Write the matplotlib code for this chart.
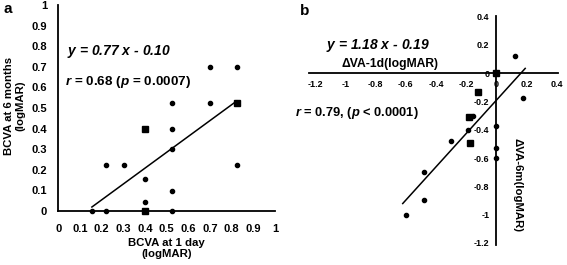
import matplotlib
matplotlib.use("Agg")
import matplotlib.pyplot as plt
import numpy as np

plt.rcParams['font.family'] = ['Liberation Sans', 'DejaVu Sans']
plt.rcParams['mathtext.fontset'] = 'custom'
plt.rcParams['mathtext.it'] = 'Liberation Sans:italic:bold'
plt.rcParams['mathtext.rm'] = 'Liberation Sans:bold'

# Panel a data
a_circ_x = [0.155, 0.222, 0.222, 0.301, 0.398, 0.398, 0.523, 0.523, 0.523, 0.523, 0.523, 0.699, 0.699, 0.824, 0.824]
a_circ_y = [0.0, 0.0, 0.222, 0.222, 0.155, 0.046, 0.0, 0.097, 0.301, 0.398, 0.523, 0.523, 0.699, 0.699, 0.222]
a_sq_x = [0.398, 0.398, 0.824]
a_sq_y = [0.0, 0.398, 0.523]
a_fit = (0.77, -0.10)
a_fit_range = [0.155, 0.824]
a_ticks = [0, 0.1, 0.2, 0.3, 0.4, 0.5, 0.6, 0.7, 0.8, 0.9, 1]
a_ticklabels = ['0', '0.1', '0.2', '0.3', '0.4', '0.5', '0.6', '0.7', '0.8', '0.9', '1']

# Panel b data
b_circ_x = [0.125, 0.176, 0.0, 0.0, 0.0, -0.155, -0.19, -0.30, -0.48, -0.48, -0.60]
b_circ_y = [0.125, -0.176, -0.37, -0.53, -0.60, -0.30, -0.40, -0.48, -0.70, -0.90, -1.0]
b_sq_x = [0.0, -0.125, -0.18, -0.176]
b_sq_y = [0.0, -0.13, -0.31, -0.49]
b_fit = (1.18, -0.19)
b_fit_range = [-0.62, 0.19]
b_xticks = [-1.2, -1.0, -0.8, -0.6, -0.4, -0.2, 0.0, 0.2, 0.4]
b_xticklabels = ['-1.2', '-1', '-0.8', '-0.6', '-0.4', '-0.2', '0', '0.2', '0.4']
b_yticks = [0.4, 0.2, 0.0, -0.2, -0.4, -0.6, -0.8, -1.0, -1.2]
b_yticklabels = ['0.4', '0.2', '0', '-0.2', '-0.4', '-0.6', '-0.8', '-1', '-1.2']

W, H = 567, 265
fig = plt.figure(figsize=(W / 100, H / 100), dpi=100)

def fx(px):
    return px / W

def fy(py):
    return 1 - py / H

# ---- Panel a ----
axa = fig.add_axes([fx(58.3), fy(211), fx(275 - 58.3), (211 - 5) / H])
axa.set_xlim(0, 1)
axa.set_ylim(0, 1)
for s in ['top', 'right']:
    axa.spines[s].set_visible(False)
for s in ['left', 'bottom']:
    axa.spines[s].set_linewidth(1.3)
axa.tick_params(length=0, labelsize=8)
axa.tick_params(axis='y', pad=8)
axa.tick_params(axis='x', pad=9)
axa.set_xticks(a_ticks)
axa.set_xticklabels(a_ticklabels, fontweight='bold')
axa.set_yticks(a_ticks)
axa.set_yticklabels(a_ticklabels, fontweight='bold')
axa.plot(a_circ_x, a_circ_y, 'o', color='black', ms=3, clip_on=False, zorder=5)
axa.plot(a_sq_x, a_sq_y, 's', color='black', ms=5, clip_on=False, zorder=5)
xf = np.array(a_fit_range)
axa.plot(xf, a_fit[0] * xf + a_fit[1], color='black', lw=1.1)
axa.set_xlabel('BCVA at 1 day\n(logMAR)', fontsize=8.2, fontweight='bold', labelpad=3, linespacing=1.2)
fig.text(fx(15), fy(106), 'BCVA at 6 months\n(logMAR)', rotation=90, ha='center', va='center',
         fontsize=8.2, fontweight='bold', linespacing=1.2)
fig.text(fx(67), fy(51), '$y$ = 0.77 $x$ - 0.10', fontsize=10, fontweight='bold',
         fontstyle='italic', ha='left', va='center')
fig.text(fx(65), fy(82), '$r$ = 0.68 ($p$ = 0.0007)', fontsize=9.7, fontweight='bold',
         ha='left', va='center')
fig.text(fx(8), fy(9), 'a', fontsize=11, fontweight='bold', ha='center', va='center')

# ---- Panel b ----
axb = fig.add_axes([fx(309), fy(245), fx(558 - 309), (245 - 16) / H])
axb.set_xlim(-1.24, 0.407)
axb.set_ylim(-1.215, 0.405)
for s in ['top', 'right']:
    axb.spines[s].set_visible(False)
axb.spines['left'].set_position(('data', 0))
axb.spines['bottom'].set_position(('data', 0))
for s in ['left', 'bottom']:
    axb.spines[s].set_linewidth(1.3)
axb.tick_params(length=0, labelsize=6.5)
axb.tick_params(axis='y', pad=5)
axb.tick_params(axis='x', pad=5)
axb.set_xticks(b_xticks)
axb.set_xticklabels(b_xticklabels, fontweight='bold')
axb.set_yticks(b_yticks)
axb.set_yticklabels(b_yticklabels, fontweight='bold')
axb.plot(b_circ_x, b_circ_y, 'o', color='black', ms=3, clip_on=False, zorder=5)
axb.plot(b_sq_x, b_sq_y, 's', color='black', ms=5, clip_on=False, zorder=5)
xf = np.array(b_fit_range)
axb.plot(xf, b_fit[0] * xf + b_fit[1], color='black', lw=1.1)
axb.text(-0.705, 0.025, 'ΔVA-1d(logMAR)', fontsize=8.7, fontweight='bold', ha='center', va='bottom')
axb.text(0.136, -0.79, 'ΔVA-6m(logMAR)', fontsize=8.2, fontweight='bold', rotation=270,
         ha='center', va='center')
fig.text(fx(378), fy(45), '$y$ = 1.18 $x$ - 0.19', fontsize=10, fontweight='bold',
         fontstyle='italic', ha='center', va='center')
fig.text(fx(356.5), fy(113), '$r$ = 0.79, ($p$ < 0.0001)', fontsize=9.3, fontweight='bold',
         ha='center', va='center')
fig.text(fx(305), fy(11), 'b', fontsize=11, fontweight='bold', ha='center', va='center')

fig.savefig('out.png', dpi=100)
